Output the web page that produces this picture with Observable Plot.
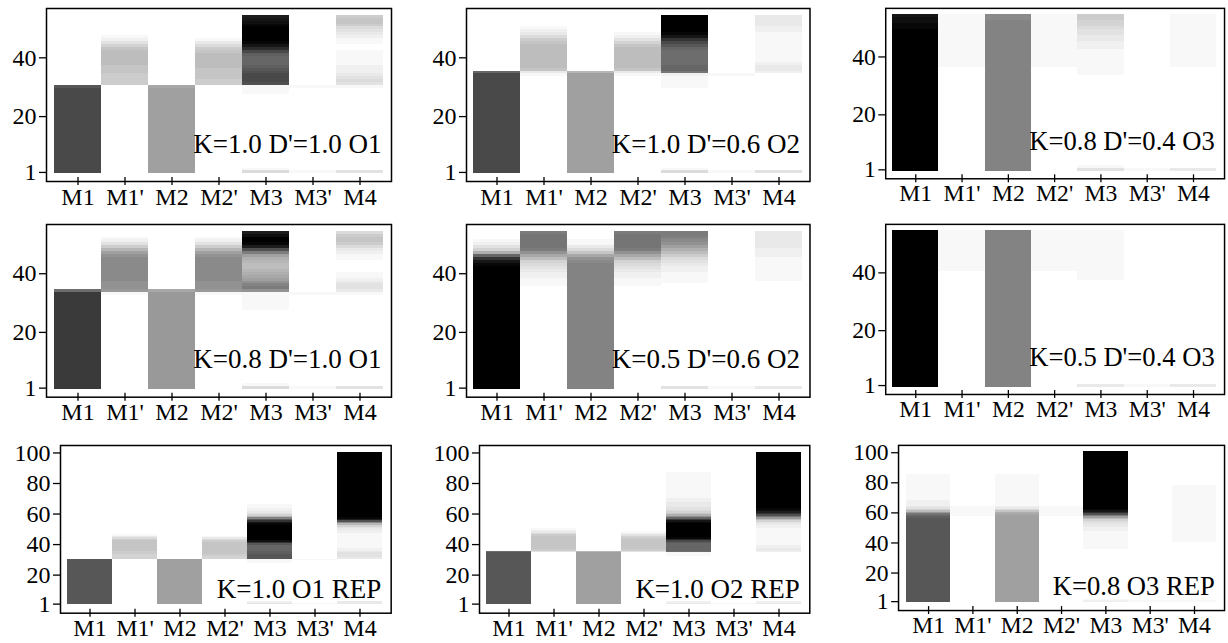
<!DOCTYPE html>
<html>
<head>
<meta charset="utf-8">
<script src="https://cdn.jsdelivr.net/npm/d3@7"></script>
<script src="https://cdn.jsdelivr.net/npm/@observablehq/plot@0.6"></script>
<style>
html, body { margin: 0; padding: 0; background: #fff; overflow: hidden; width: 1228px; height: 643px; }
#root { position: relative; width: 1228px; height: 643px; overflow: hidden; }
.panel { position: absolute; }
</style>
</head>
<body>
<div id="root"></div>
<script>
// ---------------- data ----------------
const categories = ["M1", "M1'", "M2", "M2'", "M3", "M3'", "M4"];

const panelLabels = [
  "K=1.0 D'=1.0 O1", "K=1.0 D'=0.6 O2", "K=0.8 D'=0.4 O3",
  "K=0.8 D'=1.0 O1", "K=0.5 D'=0.6 O2", "K=0.5 D'=0.4 O3",
  "K=1.0 O1 REP", "K=1.0 O2 REP", "K=0.8 O3 REP"
];
const panelRows = [54, 54, 54, 54, 54, 54, 100, 100, 100];
const yTicksShort = [1, 20, 40];
const yTicksLong = [1, 20, 40, 60, 80, 100];

// Darkness of each cell: tokens "row:level" or "hiRow-loRow:level",
// level in base 36 (0 = white ... z = black). Rows not listed are white.
const panel1 = [
  "30:n 29-1:p",
  "47:1 46:2 45:4 44:6 43:8 42-38:9 37-35:8 34-31:7",
  "30:c 29-1:d",
  "46:1 45:3 44:5 43:7 42:8 41-37:9 36-33:8 32-31:7",
  "54:v 53:w 52:x 51:y 50-46:z 45:y 44:w 43:t 42:p 41:m 40-38:l 37:m 36:n 35:o 34-32:p 31:o 30-28:1 2:1 1:5",
  "30:1 1:1",
  "54:7 53-52:8 51:7 50:5 49:4 48:3 47:2 46-45:1 42-38:1 37-35:2 34:3 33:4 32:5 31:4 30:1 1:4"
];
const panel2 = [
  "35:l 34-1:p",
  "50:1 49:2 48:3 47:5 46:7 45:8 44-37:9 36:8 35:3 34:1",
  "35:a 34-1:d",
  "48:1 47:2 46:4 45:6 44:8 43-37:9 36:8 35:3 34:1",
  "54-49:z 48:y 47:w 46:s 45:p 44:n 43:l 42-38:k 37-36:l 35:j 34:2 33-30:1 2:1 1:5",
  "34:1 1:1",
  "54-51:3 50-49:2 48-39:1 38:2 37-36:3 35:2 1:4"
];
const panel3 = [
  "54:w 53-52:x 51-50:y 49-1:z",
  "54-37:1",
  "54-53:g 52-1:h",
  "54-37:1",
  "54-53:7 52-51:6 50:5 49-48:4 47-46:3 45-43:2 42-34:1 2:1 1:4",
  "1:1",
  "54-37:1 1:3"
];
const panel4 = [
  "34:k 33-1:r",
  "52:1 51:2 50:4 49:7 48:a 47:d 46:f 45-38:g 37-35:f 34:e 33:1",
  "34:c 33-1:e",
  "52:1 51:2 50:4 49:7 48:a 47:d 46:f 45-38:g 37-35:f 34:e 33:1",
  "54:v 53:x 52-51:z 50:y 49:v 48:o 47:i 46:d 45:b 44:a 43-42:9 41:a 40:b 39:c 38:d 37:f 36:h 35:i 34:f 33-28:1 2:1 1:5",
  "33:1 1:1",
  "54:5 53:7 52-51:8 50:7 49:5 48:3 47:2 46-45:1 40-39:1 38:2 37:3 36-35:4 34:3 33:1 1:4"
];
const panel5 = [
  "51:1 50:2 49:4 48:6 47:b 46:l 45:s 44:w 43:y 42-1:z",
  "54:i 53-49:j 48:i 47:f 46:c 45:9 44:6 43:5 42:4 41:3 40-39:2 38-36:1",
  "51-50:1 49:3 48:5 47:8 46:c 45:f 44:g 43-1:h",
  "54:i 53-49:j 48:i 47:f 46:c 45:9 44:6 43:5 42:4 41:3 40-39:2 38-36:1",
  "54-53:i 52:h 51:g 50:f 49:d 48:b 47:9 46:7 45:5 44:4 43:3 42-41:2 40-37:1 1:4",
  "1:1",
  "54-49:3 48-46:2 45-38:1 1:3"
];
const panel6 = [
  "54-1:z",
  "54-41:1",
  "54-1:h",
  "54-41:1",
  "54-38:1 1:3",
  "1:1",
  "1:3"
];
const panel7 = [
  "30-1:n",
  "46:1 45:3 44:5 43:7 42-36:8 35-34:7 33-31:6",
  "30-1:d",
  "45:1 44:3 43:5 42:7 41-34:8 33:7 32-31:6",
  "66-64:1 63-62:2 61:3 60:4 59:6 58:a 57:h 56:n 55:s 54:w 53:y 52-43:z 42:x 41:s 40:n 39-36:l 35-34:m 33-31:n 30-28:1 2:2 1:4",
  "30:1 1:1",
  "100-58:z 57:y 56:v 55:o 54:g 53:a 52:6 51:4 50:3 49-48:2 47-38:1 37-36:2 35:3 34-32:4 31:3 2-1:3"
];
const panel8 = [
  "35:k 34-1:n",
  "50:1 49:2 48:3 47:5 46:7 45-37:8 36:7 35:4",
  "35:a 34-1:d",
  "48:1 47:2 46:4 45:6 44:7 43-37:8 36:7 35:4",
  "87-71:1 70-68:2 67-65:3 64-63:4 62:5 61:6 60:8 59:b 58:f 57:l 56:r 55:w 54:y 53-45:z 44:y 43:u 42:p 41:m 40-36:l 35:k 34-33:1 2:2 1:3",
  "1:1",
  "100-64:z 63:y 62:x 61:v 60:s 59:o 58:j 57:e 56:9 55:6 54:4 53:3 52-51:2 50-40:1 39-38:2 37-36:3 35:2 2:2 1:3"
];
const panel9 = [
  "85-69:1 68-65:2 64:3 63:4 62:6 61:9 60:e 59:j 58:l 57:m 56-1:n",
  "64-58:1",
  "85-65:1 64:2 63:3 62:5 61:8 60:b 59:c 58-1:d",
  "64-58:1",
  "100-63:z 62:y 61:w 60:t 59:o 58:i 57:d 56:9 55:6 54:5 53:4 52-51:3 50-48:2 47-36:1 2:1 1:2",
  "1:1",
  "78-41:1 1:1"
];
const panels = [panel1, panel2, panel3, panel4, panel5, panel6, panel7, panel8, panel9];

// ---------------- layout (pixels) ----------------
const frameLefts   = [46, 466, 886, 46, 466, 886, 60, 479, 899];
const frameWidths  = [345, 343.5, 344, 345, 343.5, 344, 330.7, 330.3, 331];
const frameTops    = [8, 8, 8, 224, 224, 224, 445.3, 445.3, 445.3];
const frameHeights = [173, 173, 173, 172.7, 172.7, 172.7, 167.7, 167.7, 167.7];

const FONT = "Liberation Serif";

function parseColumn(spec) {
  const out = [];
  for (const tok of spec.trim().split(/\s+/)) {
    const [range, lv] = tok.split(":");
    const parts = range.split("-").map(Number);
    const hi = parts[0], lo = parts.length > 1 ? parts[1] : parts[0];
    for (let r = lo; r <= hi; r++) out.push({row: r, level: parseInt(lv, 36)});
  }
  return out;
}

const root = document.getElementById("root");

panels.forEach((cols, p) => {
  const long = panelRows[p] === 100;
  const cells = [];
  cols.forEach((spec, i) => {
    for (const c of parseColumn(spec)) cells.push({cat: categories[i], row: c.row, level: c.level});
  });

  const mL = long ? 64 : 52, mR = 4, mT = 8, mB = 42;
  const width = mL + frameWidths[p] + mR;
  const height = mT + frameHeights[p] + mB;

  const chart = Plot.plot({
    width, height,
    marginLeft: mL, marginRight: mR, marginTop: mT, marginBottom: mB,
    style: {fontFamily: FONT, fontSize: "24px", color: "#000", background: "transparent", overflow: "visible"},
    x: {type: "band", domain: categories, padding: 0,
        insetLeft: long ? 5.5 : 6.7, insetRight: long ? 6.5 : 7.5, label: null},
    y: {type: "linear", domain: [0.5, panelRows[p] + 0.5],
        insetTop: 6.7, insetBottom: long ? 8.3 : 7.6, label: null},
    color: {type: "linear", domain: [0, 35], range: ["#ffffff", "#000000"], interpolate: "rgb"},
    marks: [
      Plot.barY(cells, {
        x: "cat",
        y1: d => d.row - 0.5,
        y2: d => d.row + 0.5,
        fill: "level",
        inset: 0,
        shapeRendering: "crispEdges"
      }),
      Plot.frame({stroke: "#000", strokeWidth: 1.5}),
      Plot.axisX({tickSize: 8, dy: -4, tickPadding: 2, label: null, fontSize: 24, fontFamily: FONT, strokeWidth: 1.3}),
      Plot.axisY({ticks: long ? yTicksLong : yTicksShort, tickSize: 7, tickPadding: 3,
                  label: null, fontSize: 24, fontFamily: FONT, strokeWidth: 1.3}),
      Plot.text([panelLabels[p]], {
        frameAnchor: "bottom-right",
        text: d => d,
        textAnchor: "end",
        lineAnchor: "bottom",
        dx: -10,
        dy: long ? -15.5 : -29,
        fontSize: 27,
        fontFamily: FONT,
        fill: "#000"
      })
    ]
  });

  const div = document.createElement("div");
  div.className = "panel";
  div.style.left = (frameLefts[p] - mL) + "px";
  div.style.top = (frameTops[p] - mT) + "px";
  div.appendChild(chart);
  root.appendChild(div);
});
</script>
</body>
</html>
